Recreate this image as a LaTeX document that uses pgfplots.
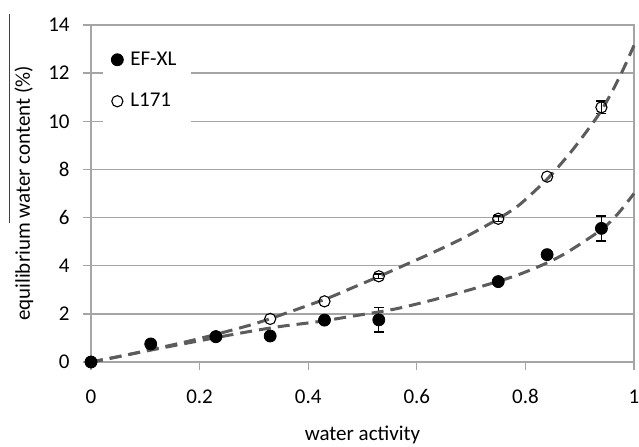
\documentclass[border=0pt]{standalone}
\usepackage{fontspec}
\setmainfont{Carlito}
\usepackage{pgfplots}
\pgfplotsset{compat=1.18}
\usepackage{pgfplotstable}
\definecolor{gridgray}{RGB}{165,165,165}
\definecolor{trend}{RGB}{92,92,92}
\pgfplotsset{dotlegend/.style={legend image code/.code={\draw[##1] plot coordinates {(0pt,0pt)};}}}

% measured points
\pgfplotstableread{
x     y
0     0
0.11  0.75
0.23  1.05
0.33  1.08
0.43  1.74
0.53  1.75
0.75  3.34
0.84  4.46
0.94  5.55
}\efxl
\pgfplotstableread{
x     y
0     0
0.23  1.07
0.33  1.79
0.43  2.52
0.53  3.56
0.75  5.95
0.84  7.70
0.94  10.58
}\lone
% standard deviations (only where visible)
\pgfplotstableread{
x     y     ey
0.53  1.75  0.50
0.94  5.55  0.52
}\efxlerr
\pgfplotstableread{
x     y     ey
0.53  3.56  0.10
0.75  5.95  0.12
0.94  10.58 0.26
}\loneerr

\begin{document}
\begin{tikzpicture}[font=\fontsize{10.5}{12.6}\selectfont]
\useasboundingbox (-45.5pt,-42pt) rectangle (274pt,181pt);
\begin{axis}[
  at={(0,0)}, anchor=south west,
  scale only axis, width=271.5pt, height=168.5pt,
  xmin=0, xmax=1, ymin=0, ymax=14,
  xtick={0,0.2,0.4,0.6,0.8,1},
  ytick={0,2,4,6,8,10,12,14},
  /pgf/number format/assume math mode=true,
  tick pos=left, tick align=outside, major tick length=4pt,
  axis line style={gridgray, line width=0.65pt},
  every tick/.style={gridgray, line width=0.65pt},
  ymajorgrids, grid style={gridgray, line width=0.65pt},
  xticklabel style={anchor=base, inner sep=0pt, yshift=-16.5pt},
  yticklabel style={anchor=east, inner sep=0pt, xshift=-6.5pt},
  every axis x label/.style={at={(axis description cs:0.5,0)}, anchor=base, yshift=-39pt, inner sep=0pt},
  every axis y label/.style={at={(axis description cs:-0.1234,0.5)}, rotate=90, anchor=center, inner sep=0pt},
  xlabel={water activity},
  ylabel={equilibrium water content (\%)},
  legend cell align=left,
  legend style={at={(rel axis cs:0.022,0.967)}, anchor=north west,
    draw=none, fill=white, inner sep=4pt, row sep=5.5pt,
    nodes={inner sep=3.5pt}},
  clip=false,
  after end axis/.code={
    \draw[black!75, line width=0.5pt] (axis description cs:-0.151,1.033) -- (axis description cs:-0.151,0.412);
  },
]
\addplot[only marks, mark=*, mark size=3pt, black, dotlegend]
  table[x=x, y=y] {\efxl};
\addlegendentry{EF-XL}
\addplot[only marks, mark=o, mark size=2.8pt, black, mark options={line width=0.55pt}, dotlegend]
  table[x=x, y=y] {\lone};
\addlegendentry{L171}

% error bars
\addplot[draw=none, mark=none, forget plot,
  error bars/.cd, y dir=both, y explicit,
  error bar style={black, line width=0.65pt},
  error mark options={rotate=90, mark size=2.5pt, black, line width=0.65pt}]
  table[x=x, y=y, y error=ey] {\efxlerr};
\addplot[draw=none, mark=none, forget plot,
  error bars/.cd, y dir=both, y explicit,
  error bar style={black, line width=0.65pt},
  error mark options={rotate=90, mark size=2.5pt, black, line width=0.65pt}]
  table[x=x, y=y, y error=ey] {\loneerr};

% trend lines
\addplot[trend, line width=1.5pt, dash pattern=on 6pt off 3.5pt, smooth, forget plot] coordinates {
  (0,0) (0.05,0.22) (0.10,0.46) (0.19,0.92) (0.28,1.45) (0.33,1.80)
  (0.43,2.60) (0.48,3.07) (0.53,3.55) (0.57,3.95) (0.63,4.55) (0.69,5.20)
  (0.75,5.95) (0.79,6.55) (0.84,7.60) (0.87,8.35) (0.89,8.90) (0.92,9.80)
  (0.94,10.45) (0.96,11.25) (0.98,12.15) (1.00,13.15)
};
\addplot[trend, line width=1.5pt, dash pattern=on 6pt off 3.5pt, smooth, forget plot] coordinates {
  (0,0) (0.05,0.22) (0.10,0.45) (0.19,0.84) (0.28,1.22) (0.35,1.48)
  (0.42,1.68) (0.48,1.90) (0.53,2.08) (0.57,2.25) (0.63,2.58) (0.69,2.95)
  (0.75,3.35) (0.79,3.65) (0.84,4.12) (0.88,4.60) (0.94,5.50) (0.97,6.15)
  (1.00,7.00)
};
\end{axis}
\end{tikzpicture}
\end{document}
